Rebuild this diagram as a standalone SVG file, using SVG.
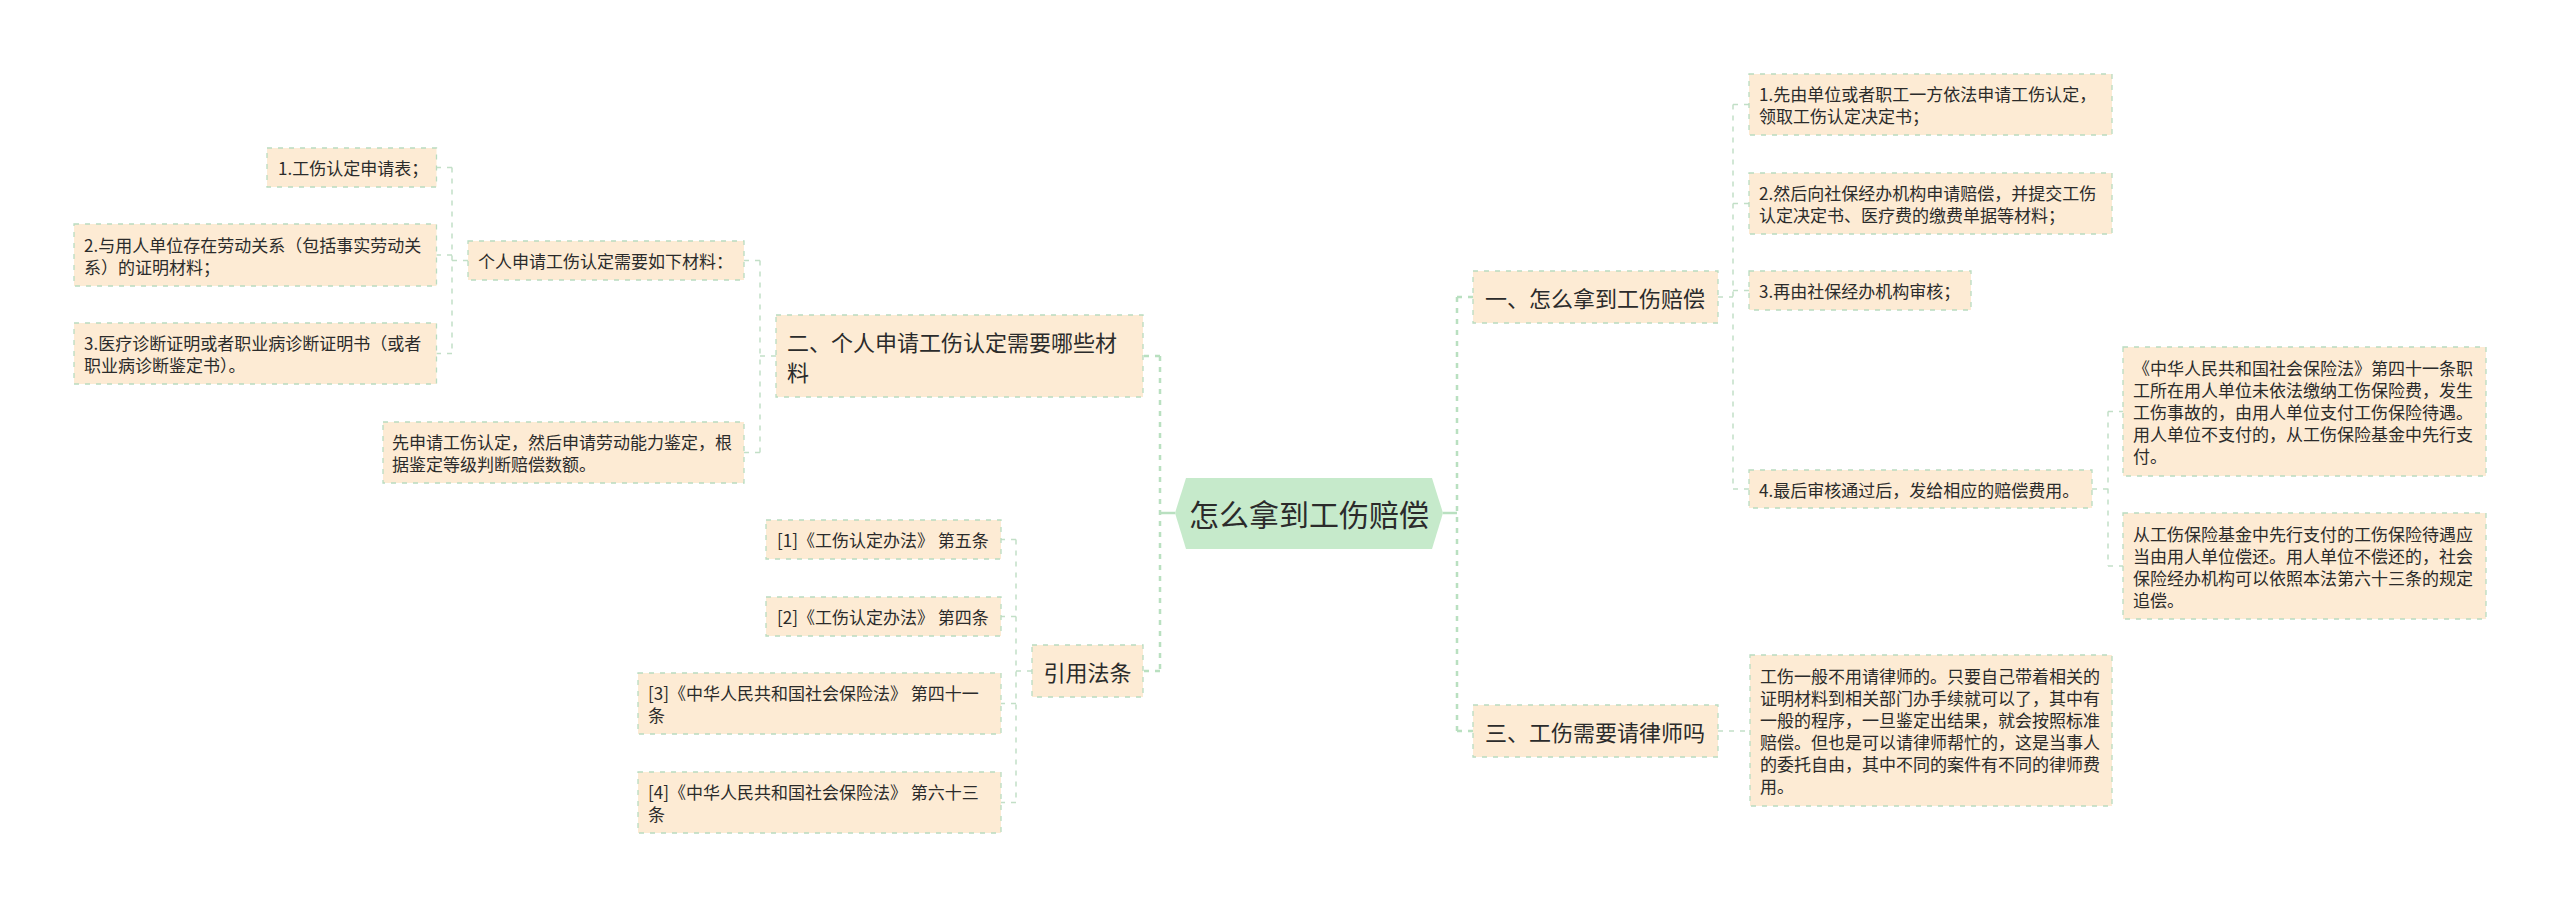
<svg xmlns="http://www.w3.org/2000/svg" width="2560" height="907" viewBox="0 0 2560 907">
<style>
text{font-family:"Noto Sans CJK SC","Noto Sans",sans-serif;fill:#2b2b2b;dominant-baseline:central}
.t17{font-size:17px}
.t22{font-size:22px}
.t30{font-size:30px}
.box{fill:#fdebd4;stroke:#b9dcc0;stroke-width:1.3;stroke-dasharray:5 6}
.root{fill:#c6eacb}
.c{fill:none;stroke:#c2dfc7;stroke-width:1.5;stroke-dasharray:5 6}
.rc{fill:none;stroke:#b9e0c0;stroke-width:2.5;stroke-dasharray:5 6}
.rs{fill:none;stroke:#b9e0c0;stroke-width:2.5}
</style>
<rect width="2560" height="907" fill="#ffffff"/>
<g id="connectors">
<!-- root right -->
<path class="rs" d="M1443 513H1457"/>
<path class="rc" d="M1457 297V731"/>
<path class="rc" d="M1457 297H1473M1457 731H1473"/>
<!-- root left -->
<path class="rs" d="M1175 513H1160"/>
<path class="rc" d="M1160 356V671"/>
<path class="rc" d="M1160 356H1143M1160 671H1143"/>
<!-- 一 -->
<path class="c" d="M1718 297H1733M1733 104.5V489M1733 104.5H1749M1733 203.5H1749M1733 290.5H1749M1733 489H1749"/>
<!-- 4 -->
<path class="c" d="M2092 489H2108M2108 411.5V566M2108 411.5H2123M2108 566H2123"/>
<!-- 三 -->
<path class="c" d="M1718 731H1750"/>
<!-- 二 -->
<path class="c" d="M776 356H760M760 260.5V452.5M760 260.5H744M760 452.5H744"/>
<!-- 个人 -->
<path class="c" d="M468 260.5H452M452 167.5V353.5M452 167.5H436.5M452 255H436.5M452 353.5H436.5"/>
<!-- 引用法条 -->
<path class="c" d="M1032 671H1016M1016 539.5V802.5M1016 539.5H1001M1016 616.5H1001M1016 703.5H1001M1016 802.5H1001"/>
</g>
<g id="root">
<polygon class="root" points="1175,513 1186,478 1432,478 1443,513 1432,549 1186,549"/>
<text class="t30" x="1309" y="513" text-anchor="middle">怎么拿到工伤赔偿</text>
</g>
<g id="n1">
<rect class="box" x="1473" y="271" width="245" height="52"/>
<text class="t22" x="1485" y="297">一、怎么拿到工伤赔偿</text>
</g>
<g id="n1-1">
<rect class="box" x="1749" y="74" width="363" height="61"/>
<text class="t17" x="1759" y="93.5">1.先由单位或者职工一方依法申请工伤认定，</text>
<text class="t17" x="1759" y="115.5">领取工伤认定决定书；</text>
</g>
<g id="n1-2">
<rect class="box" x="1749" y="173" width="363" height="61"/>
<text class="t17" x="1759" y="192.5">2.然后向社保经办机构申请赔偿，并提交工伤</text>
<text class="t17" x="1759" y="214.5">认定决定书、医疗费的缴费单据等材料；</text>
</g>
<g id="n1-3">
<rect class="box" x="1749" y="271" width="222" height="39"/>
<text class="t17" x="1759" y="290.5">3.再由社保经办机构审核；</text>
</g>
<g id="n1-4">
<rect class="box" x="1749" y="470" width="343" height="38"/>
<text class="t17" x="1759" y="489">4.最后审核通过后，发给相应的赔偿费用。</text>
</g>
<g id="n1-4-1">
<rect class="box" x="2123" y="347" width="363" height="129"/>
<text class="t17" x="2133" y="367.5">《中华人民共和国社会保险法》第四十一条职</text>
<text class="t17" x="2133" y="389.5">工所在用人单位未依法缴纳工伤保险费，发生</text>
<text class="t17" x="2133" y="411.5">工伤事故的，由用人单位支付工伤保险待遇。</text>
<text class="t17" x="2133" y="433.5">用人单位不支付的，从工伤保险基金中先行支</text>
<text class="t17" x="2133" y="455.5">付。</text>
</g>
<g id="n1-4-2">
<rect class="box" x="2123" y="513" width="363" height="106"/>
<text class="t17" x="2133" y="533">从工伤保险基金中先行支付的工伤保险待遇应</text>
<text class="t17" x="2133" y="555">当由用人单位偿还。用人单位不偿还的，社会</text>
<text class="t17" x="2133" y="577">保险经办机构可以依照本法第六十三条的规定</text>
<text class="t17" x="2133" y="599">追偿。</text>
</g>
<g id="n3">
<rect class="box" x="1473" y="705" width="245" height="52"/>
<text class="t22" x="1485" y="731">三、工伤需要请律师吗</text>
</g>
<g id="n3-1">
<rect class="box" x="1750" y="655" width="362" height="151"/>
<text class="t17" x="1760" y="675.5">工伤一般不用请律师的。只要自己带着相关的</text>
<text class="t17" x="1760" y="697.5">证明材料到相关部门办手续就可以了，其中有</text>
<text class="t17" x="1760" y="719.5">一般的程序，一旦鉴定出结果，就会按照标准</text>
<text class="t17" x="1760" y="741.5">赔偿。但也是可以请律师帮忙的，这是当事人</text>
<text class="t17" x="1760" y="763.5">的委托自由，其中不同的案件有不同的律师费</text>
<text class="t17" x="1760" y="785.5">用。</text>
</g>
<g id="n2">
<rect class="box" x="776" y="315" width="367" height="82"/>
<text class="t22" x="787" y="341">二、个人申请工伤认定需要哪些材</text>
<text class="t22" x="787" y="371">料</text>
</g>
<g id="n2-1">
<rect class="box" x="468" y="241" width="276" height="39"/>
<text class="t17" x="478" y="260.5">个人申请工伤认定需要如下材料：</text>
</g>
<g id="n2-1-1">
<rect class="box" x="267" y="148" width="169.5" height="39"/>
<text class="t17" x="278" y="167.5">1.工伤认定申请表；</text>
</g>
<g id="n2-1-2">
<rect class="box" x="74" y="224" width="362.5" height="62"/>
<text class="t17" x="84" y="244">2.与用人单位存在劳动关系（包括事实劳动关</text>
<text class="t17" x="84" y="266">系）的证明材料；</text>
</g>
<g id="n2-1-3">
<rect class="box" x="74" y="323" width="362.5" height="61"/>
<text class="t17" x="84" y="342.5">3.医疗诊断证明或者职业病诊断证明书（或者</text>
<text class="t17" x="84" y="364.5">职业病诊断鉴定书）。</text>
</g>
<g id="n2-2">
<rect class="box" x="383" y="422" width="361" height="61"/>
<text class="t17" x="392" y="441.5">先申请工伤认定，然后申请劳动能力鉴定，根</text>
<text class="t17" x="392" y="463.5">据鉴定等级判断赔偿数额。</text>
</g>
<g id="n4">
<rect class="box" x="1032" y="645" width="111" height="52"/>
<text class="t22" x="1087.5" y="671" text-anchor="middle">引用法条</text>
</g>
<g id="n4-1">
<rect class="box" x="766" y="520" width="235" height="39"/>
<text class="t17" x="777" y="539.5">[1]《工伤认定办法》 第五条</text>
</g>
<g id="n4-2">
<rect class="box" x="766" y="597" width="235" height="39"/>
<text class="t17" x="777" y="616.5">[2]《工伤认定办法》 第四条</text>
</g>
<g id="n4-3">
<rect class="box" x="638" y="673" width="363" height="61"/>
<text class="t17" x="648" y="692.5">[3]《中华人民共和国社会保险法》 第四十一</text>
<text class="t17" x="648" y="714.5">条</text>
</g>
<g id="n4-4">
<rect class="box" x="638" y="772" width="363" height="61"/>
<text class="t17" x="648" y="791.5">[4]《中华人民共和国社会保险法》 第六十三</text>
<text class="t17" x="648" y="813.5">条</text>
</g>
</svg>
